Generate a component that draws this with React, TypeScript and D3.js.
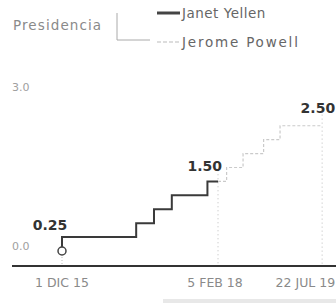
import React from "react";
import * as d3 from "d3";

const W = 336;
const H = 303;

const yellenDates = ["2015-12-01", "2015-12-01", "2016-12-14", "2017-03-15", "2017-06-14", "2017-12-13", "2018-02-05"];
const yellenRates = [0, 0.25, 0.5, 0.75, 1.0, 1.25, 1.25];

const powellDates = ["2018-02-05", "2018-03-21", "2018-06-13", "2018-09-26", "2018-12-19", "2019-07-22"];
const powellRates = [1.25, 1.5, 1.75, 2.0, 2.25, 2.25];

const yTicks = [0, 3];
const yTickLabels = ["0.0", "3.0"];

const xTickDates = ["2015-12-01", "2018-02-05", "2019-07-22"];
const xTickLabels = ["1 DIC 15", "5 FEB 18", "22 JUL 19"];

const markerDates = ["2018-02-05", "2019-07-22"];
const markerTops = [1.45, 2.45];

const valueLabelDates = ["2015-12-01", "2018-02-05", "2019-07-22"];
const valueLabelRates = [0.25, 1.5, 2.25];
const valueLabelTexts = ["0.25", "1.50", "2.50"];

const legendNames = ["Janet Yellen", "Jerome Powell"];
const legendTitle = "Presidencia";

const parse = d3.timeParse("%Y-%m-%d");

export default function App() {
  const x = d3
    .scaleTime()
    .domain([parse("2015-12-01")!, parse("2018-02-05")!])
    .range([62, 218]);
  const y = d3.scaleLinear().domain([0, 3]).range([251, 84]);

  const yellen = yellenDates.map((d, i) => ({ date: parse(d)!, v: yellenRates[i] }));
  const powell = powellDates.map((d, i) => ({ date: parse(d)!, v: powellRates[i] }));

  const line = d3
    .line<{ date: Date; v: number }>()
    .x((d) => x(d.date))
    .y((d) => y(d.v))
    .curve(d3.curveStepAfter);

  const axisY = y(0) + 15;
  const lightFont = "'DejaVu Sans', sans-serif";
  const start = yellen[0];

  const yLabelDy = [-1, 7];
  const vlAnchor = ["middle", "end", "end"];
  const vlDx = [-12, 4, 13];
  const vlDy = [-7, 3, -13];

  return (
    <svg
      width={W}
      height={H}
      style={{ position: "absolute", left: 0, top: 0, background: "#fff" }}
    >
      {/* Legend */}
      <text x={13} y={30} fontFamily={lightFont} fontSize={13.5} fill="#8a8a8a" letterSpacing={1.1}>
        {legendTitle}
      </text>
      <path d="M117,13 V40 H150" fill="none" stroke="#aaa" strokeWidth={1} />
      <line x1={157} x2={180} y1={13} y2={13} stroke="#444" strokeWidth={3} />
      <line x1={157} x2={180} y1={42} y2={42} stroke="#bbb" strokeWidth={1.2} strokeDasharray="4,2" />
      <text x={182} y={18} fontFamily={lightFont} fontSize={13.5} fill="#666" letterSpacing={0.5}>
        {legendNames[0]}
      </text>
      <text x={182} y={47} fontFamily={lightFont} fontSize={13.5} fill="#666" letterSpacing={1.8}>
        {legendNames[1]}
      </text>

      {/* Y tick labels */}
      {yTicks.map((t, i) => (
        <text key={t} x={12} y={y(t) + yLabelDy[i]} fontFamily={lightFont} fontSize={11} fill="#a0a0a0">
          {yTickLabels[i]}
        </text>
      ))}

      {/* Marker dotted verticals */}
      {markerDates.map((d, i) => (
        <line
          key={d}
          x1={x(parse(d)!)}
          x2={x(parse(d)!)}
          y1={y(markerTops[i])}
          y2={axisY}
          stroke="#bbb"
          strokeWidth={1}
          strokeDasharray="1,3"
        />
      ))}
      <line x1={x(start.date)} x2={x(start.date)} y1={y(0)} y2={axisY} stroke="#bbb" strokeWidth={1} strokeDasharray="1,2" />

      {/* Powell line */}
      <path d={line(powell) || ""} fill="none" stroke="#cacaca" strokeWidth={1.2} strokeDasharray="3,2" />

      {/* Yellen line */}
      <path d={line(yellen) || ""} fill="none" stroke="#3a3a3a" strokeWidth={2} />
      <circle cx={x(start.date)} cy={y(start.v)} r={4} fill="#fff" stroke="#444" strokeWidth={1.5} />

      {/* Value labels */}
      {valueLabelDates.map((d, i) => (
        <text
          key={d}
          x={x(parse(d)!) + vlDx[i]}
          y={y(valueLabelRates[i]) + vlDy[i]}
          textAnchor={vlAnchor[i]}
          fontFamily="'DejaVu Sans', sans-serif"
          fontWeight="bold"
          fontSize={14}
          fill="#333"
        >
          {valueLabelTexts[i]}
        </text>
      ))}

      {/* X axis */}
      <line x1={12} x2={W} y1={axisY} y2={axisY} stroke="#333" strokeWidth={2} />
      {xTickDates.map((d, i) => (
        <text
          key={d}
          x={x(parse(d)!) + (i === 2 ? 13 : i === 1 ? -3 : 0)}
          y={axisY + 21}
          textAnchor={i === 2 ? "end" : "middle"}
          fontFamily={lightFont}
          fontSize={12.5}
          fill="#8a8a8a"
        >
          {xTickLabels[i]}
        </text>
      ))}

      <rect x={163} y={299} width={W - 163} height={4} fill="#e8e8e8" />
    </svg>
  );
}
